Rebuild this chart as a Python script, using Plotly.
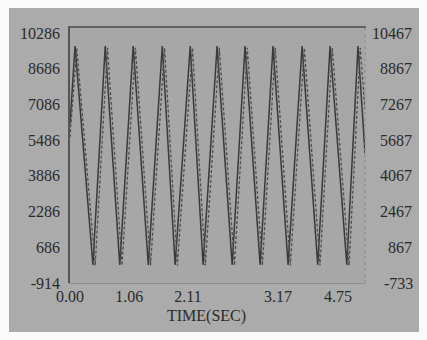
import plotly.graph_objects as go

# Solid series (left axis): turning points
solid_t = [0.00, 0.09, 0.41, 0.63, 0.89, 1.13, 1.40, 1.65, 1.88, 2.15, 2.38, 2.63, 2.90,
           3.13, 3.40, 3.63, 3.90, 4.15, 4.43, 4.65, 4.95, 5.15, 5.275]
solid_v = [6200, 9700, -100, 9700, -100, 9700, -100, 9700, -100, 9700, -100, 9700, -100,
           9700, -100, 9700, -100, 9700, -100, 9700, -100, 9700, 4900]

# Dashed series (right axis)
dash_t = [0.00, 0.12, 0.45, 0.67, 0.93, 1.17, 1.44, 1.69, 1.92, 2.19, 2.42, 2.67, 2.94,
          3.17, 3.44, 3.67, 3.94, 4.19, 4.47, 4.69, 4.99, 5.19, 5.275]
dash_v = [5800, 9800, 50, 9800, 50, 9800, 50, 9800, 50, 9800, 50, 9800, 50,
          9800, 50, 9800, 50, 9800, 50, 9800, 50, 9800, 7000]

left_ticks = [-914, 686, 2286, 3886, 5486, 7086, 8686, 10286]
left_labels = ["-914", "686", "2286", "3886", "5486", "7086", "8686", "10286"]
right_ticks = [-733, 867, 2467, 4067, 5667, 7267, 8867, 10467]
right_labels = ["-733", "867", "2467", "4067", "5687", "7267", "8867", "10467"]
x_tick_pos = [0.0, 1.06, 2.11, 3.72, 4.79]
x_tick_labels = ["0.00", "1.06", "2.11", "3.17", "4.75"]
x_title = "TIME(SEC)"

W, H = 427, 340
ml, mr, mt, mb = 70, 62, 27, 57
pw, ph = W - ml - mr, H - mt - mb

def px(x):
    return (x - ml) / pw

def py(y):
    return (H - mb - y) / ph

FIG = "\u2007"
right_text = [FIG * (5 - len(s)) + s if not s.startswith("-") else FIG + " " + s
              for s in right_labels]

fig = go.Figure()
fig.add_trace(go.Scatter(x=solid_t, y=solid_v, mode="lines",
                         line=dict(color="#3a3a3a", width=1.5), yaxis="y"))
fig.add_trace(go.Scatter(x=dash_t, y=dash_v, mode="lines",
                         line=dict(color="#4e4e4e", width=1.3, dash="3px,2px"), yaxis="y2"))

font = dict(family="Liberation Serif, DejaVu Serif, serif", size=16, color="#2a2a2a")

shapes = []
white = "#fafafa"
for x0, y0, x1, y1 in [(0, 0, W, 8), (0, 332, W, H), (0, 0, 9, H), (419, 0, W, H)]:
    shapes.append(dict(type="rect", xref="paper", yref="paper",
                       x0=px(x0), x1=px(x1), y0=py(y1), y1=py(y0),
                       fillcolor=white, line=dict(width=0), layer="above"))
# top border line
shapes.append(dict(type="line", xref="paper", yref="paper", x0=px(68), x1=px(366),
                   y0=1, y1=1, line=dict(color="#4a4a4a", width=1.5)))
# right border (faint dashed)
shapes.append(dict(type="line", xref="paper", yref="paper", x0=1, x1=1,
                   y0=0, y1=1, line=dict(color="#8a8a8a", width=1, dash="dot")))

fig.update_layout(
    width=W, height=H,
    margin=dict(l=ml, r=mr, t=mt, b=mb),
    paper_bgcolor="#ababab",
    plot_bgcolor="#a7a7a7",
    showlegend=False,
    font=font,
    shapes=shapes,
    annotations=[dict(text=x_title, xref="paper", yref="paper", x=px(206), y=py(316),
                      showarrow=False, xanchor="center", yanchor="middle", font=font)],
    xaxis=dict(range=[0, 5.275], tickvals=x_tick_pos, ticktext=x_tick_labels,
               showgrid=False, zeroline=False, showline=True, linecolor="#8e8e8e",
               linewidth=1, ticks="", ticklen=0, ticklabelstandoff=-1),
    yaxis=dict(range=[-914, 10556], tickvals=left_ticks, ticktext=left_labels,
               showgrid=False, zeroline=False, showline=True, linecolor="#555555",
               linewidth=1.5, ticks="", ticklabelstandoff=5),
    yaxis2=dict(range=[-733, 10737], tickvals=right_ticks, ticktext=right_text,
                overlaying="y", side="right", showgrid=False, zeroline=False,
                showline=False, ticks="", ticklabelstandoff=6),
)

fig.write_html("out.html", config={"displayModeBar": False},
               post_script="document.body.style.margin='0';")
